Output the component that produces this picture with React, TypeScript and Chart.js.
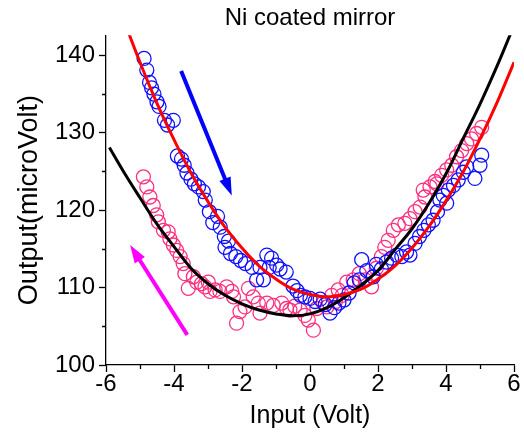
import React, { useEffect, useRef } from 'react';
import { Chart, registerables } from 'chart.js';

Chart.register(...registerables);

// Blue circles (decreasing sweep)
const blueX = [
  -4.88, -4.80, -4.72, -4.66, -4.59, -4.50, -4.44, -4.28, -4.19, -4.02,
  -3.90, -3.78, -3.70, -3.62, -3.50, -3.40, -3.28, -3.14, -3.08, -2.96,
  -2.86, -2.72, -2.64, -2.52, -2.40, -2.50, -2.34, -2.18, -2.04, -1.90,
  -1.70, -1.57, -1.47, -1.37, -1.27, -1.13, -1.20, -0.98, -0.88, -0.70,
  -0.50, -0.38, -0.28, -0.15, 0.00, 0.15, 0.30, 0.45, 0.59, 0.72,
  0.85, 1.00, 1.15, 1.30, 1.45, 1.52, 1.67, 1.86, 1.95, 2.10,
  2.25, 2.40, 2.55, 2.70, 2.84, 2.94, 3.09, 3.22, 3.35, 3.48,
  3.62, 3.75, 3.82, 3.92, 4.02, 4.07, 4.22, 4.36, 4.51, 4.61,
  4.85, 5.00, 5.05,
];
const blueY = [
  139.6, 138.1, 136.5, 135.8, 135.0, 134.0, 133.4, 131.6, 131.0, 131.6,
  127.0, 126.6, 125.8, 124.8, 124.0, 123.4, 123.0, 122.4, 121.3, 119.8,
  118.4, 119.2, 117.8, 116.6, 116.0, 115.2, 114.4, 114.0, 113.5, 113.1,
  112.6, 111.0, 112.6, 111.0, 114.2, 113.8, 112.6, 112.9, 112.4, 112.0,
  110.2, 109.6, 109.0, 108.8, 108.6, 108.2, 108.5, 107.8, 106.7, 107.4,
  108.0, 108.4, 109.3, 110.6, 111.0, 113.6, 112.2, 111.4, 113.0, 112.4,
  113.3, 113.8, 114.2, 114.0, 114.6, 114.2, 115.7, 116.6, 117.4, 118.1,
  118.7, 119.8, 121.3, 121.9, 120.9, 122.6, 123.2, 123.9, 124.9, 125.6,
  124.1, 125.8, 127.1,
];

// Pink circles (increasing sweep)
const pinkX = [
  -4.90, -4.80, -4.71, -4.61, -4.51, -4.46, -4.31, -4.17, -4.12, -4.02,
  -3.92, -3.82, -3.73, -3.68, -3.58, -3.43, -3.33, -3.19, -3.09, -2.99,
  -2.94, -2.79, -2.65, -2.45, -2.30, -2.25, -2.16, -2.06, -1.91, -1.81,
  -1.67, -1.52, -1.47, -1.27, -1.08, -0.83, -0.69, -0.59, -0.45, -0.29,
  -0.15, -0.05, 0.10, 0.20, 0.39, 0.50, 0.64, 0.75, 0.83, 0.95,
  1.08, 1.27, 1.45, 1.62, 1.81, 1.95, 2.10, 2.20, 2.30, 2.45,
  2.60, 2.79, 2.94, 3.09, 3.24, 3.33, 3.38, 3.53, 3.68, 3.73,
  3.87, 4.02, 4.17, 4.31, 4.46, 4.61, 4.75, 4.90, 5.05,
];
const pinkY = [
  124.3, 123.0, 121.7, 120.6, 119.4, 118.5, 117.4, 117.2, 116.3, 115.5,
  114.8, 114.0, 113.1, 111.8, 109.9, 111.4, 110.7, 110.5, 110.1, 110.7,
  109.5, 109.7, 109.5, 110.1, 109.5, 108.8, 105.4, 106.9, 107.5, 109.9,
  108.8, 108.0, 106.7, 108.0, 107.7, 108.0, 107.3, 107.1, 107.6, 107.1,
  106.4, 105.8, 104.5, 107.3, 108.0, 107.5, 109.0, 108.2, 109.7, 109.0,
  110.7, 111.0, 111.8, 111.0, 110.1, 112.5, 114.0, 115.2, 116.1, 117.4,
  118.1, 118.3, 118.9, 119.8, 120.4, 122.6, 121.7, 123.0, 123.7, 123.4,
  124.5, 125.2, 125.8, 126.9, 127.7, 128.6, 129.2, 129.9, 130.7,
];

// Red fit curve (to blue)
const redFitX = [-5.5, -5.0, -4.5, -4.0, -3.5, -3.0, -2.5, -2.0, -1.5, -1.0, -0.5, 0.0,
  0.5, 1.0, 1.5, 2.0, 2.5, 3.0, 3.5, 4.0, 4.5, 5.0, 5.5, 6.0];
const redFitY = [144.8, 139.1, 133.8, 129.1, 124.8, 121.1, 117.8, 115.1, 112.8, 111.1, 109.8, 109.1,
  108.8, 109.1, 109.8, 111.1, 112.8, 115.1, 117.9, 121.2, 124.9, 129.2, 133.9, 139.1];

// Black fit curve (to pink)
const blackFitX = [-5.9, -5.5, -5.0, -4.5, -4.0, -3.5, -3.0, -2.5, -2.0, -1.5, -1.0, -0.5, 0.0,
  0.5, 1.0, 1.5, 2.0, 2.5, 3.0, 3.5, 4.0, 4.5, 5.0, 5.5, 5.9];
const blackFitY = [128.1, 125.1, 121.6, 118.2, 115.3, 112.5, 110.5, 109.0, 107.9, 107.1, 106.6, 106.35, 106.6,
  107.4, 108.7, 110.3, 112.2, 114.9, 117.6, 120.9, 124.7, 129.2, 133.7, 138.6, 142.8];

// Arrows [tail, tip]
const blueArrowX = [-3.79, -2.30];
const blueArrowY = [137.97, 121.9];
const magentaArrowX = [-3.61, -5.29];
const magentaArrowY = [103.9, 115.5];

const xMajorTicks = [-6, -4, -2, 0, 2, 4, 6];
const xMinorTicks = [-5, -3, -1, 1, 3, 5];
const yMajorTicks = [100, 110, 120, 130, 140];
const yMinorTicks = [105, 115, 125, 135];

const FONT = "'Liberation Sans', Arial, sans-serif";

const pts = (xs: number[], ys: number[]) => xs.map((x, i) => ({ x, y: ys[i] }));

const decorPlugin = {
  id: 'decor',
  afterDatasetsDraw(chart: any) {
    const ctx = chart.ctx;
    const xs = chart.scales.x;
    const ys = chart.scales.y;
    const drawArrow = (ax: number[], ay: number[], color: string) => {
      const x0 = xs.getPixelForValue(ax[0]);
      const y0 = ys.getPixelForValue(ay[0]);
      const x1 = xs.getPixelForValue(ax[1]);
      const y1 = ys.getPixelForValue(ay[1]);
      const ang = Math.atan2(y1 - y0, x1 - x0);
      const headLen = 18;
      const headHalf = 6;
      const bx = x1 - headLen * Math.cos(ang);
      const by = y1 - headLen * Math.sin(ang);
      ctx.save();
      ctx.strokeStyle = color;
      ctx.fillStyle = color;
      ctx.lineWidth = 4;
      ctx.lineCap = 'butt';
      ctx.beginPath();
      ctx.moveTo(x0, y0);
      ctx.lineTo(bx + 2 * Math.cos(ang), by + 2 * Math.sin(ang));
      ctx.stroke();
      ctx.beginPath();
      ctx.moveTo(x1, y1);
      ctx.lineTo(bx - headHalf * Math.sin(ang), by + headHalf * Math.cos(ang));
      ctx.lineTo(bx + headHalf * Math.sin(ang), by - headHalf * Math.cos(ang));
      ctx.closePath();
      ctx.fill();
      ctx.restore();
    };
    drawArrow(blueArrowX, blueArrowY, '#0000ff');
    drawArrow(magentaArrowX, magentaArrowY, '#ff00ff');
  },
  afterDraw(chart: any) {
    const ctx = chart.ctx;
    const xs = chart.scales.x;
    const ys = chart.scales.y;
    const area = chart.chartArea;
    ctx.save();
    ctx.strokeStyle = '#000';
    ctx.lineWidth = 1.3;
    ctx.beginPath();
    xMinorTicks.forEach((v) => {
      const px = Math.round(xs.getPixelForValue(v)) + 0.5;
      ctx.moveTo(px, area.bottom);
      ctx.lineTo(px, area.bottom + 4);
    });
    yMinorTicks.forEach((v) => {
      const py = Math.round(ys.getPixelForValue(v)) + 0.5;
      ctx.moveTo(area.left, py);
      ctx.lineTo(area.left - 4, py);
    });
    ctx.stroke();
    ctx.restore();
  },
};

export default function App() {
  const canvasRef = useRef<HTMLCanvasElement | null>(null);

  useEffect(() => {
    document.body.style.margin = '0';
    const canvas = canvasRef.current;
    if (!canvas) return;
    const chart = new Chart(canvas, {
      type: 'scatter',
      data: {
        datasets: [
          {
            label: 'fit red',
            data: pts(redFitX, redFitY),
            showLine: true,
            borderColor: '#ff0000',
            borderWidth: 3,
            pointRadius: 0,
            tension: 0.4,
            order: 1,
          },
          {
            label: 'fit black',
            data: pts(blackFitX, blackFitY),
            showLine: true,
            borderColor: '#000000',
            borderWidth: 3,
            pointRadius: 0,
            tension: 0.4,
            order: 2,
          },
          {
            label: 'blue',
            data: pts(blueX, blueY),
            showLine: false,
            borderColor: '#1010ff',
            backgroundColor: 'rgba(0,0,0,0)',
            borderWidth: 1.3,
            pointRadius: 7,
            order: 3,
          },
          {
            label: 'pink',
            data: pts(pinkX, pinkY),
            showLine: false,
            borderColor: '#ff2f7f',
            backgroundColor: 'rgba(0,0,0,0)',
            borderWidth: 1.3,
            pointRadius: 7,
            order: 4,
          },
        ],
      },
      options: {
        animation: false,
        responsive: true,
        maintainAspectRatio: false,
        layout: { padding: { left: 0, right: 10, top: 0, bottom: 0 } },
        plugins: {
          legend: { display: false },
          tooltip: { enabled: false },
          title: {
            display: true,
            text: 'Ni coated mirror',
            color: '#000',
            fullSize: false,
            font: { family: FONT, size: 24, weight: 'normal', lineHeight: 1.05 },
            padding: { top: 6, bottom: 4 },
          },
        },
        scales: {
          x: {
            type: 'linear',
            min: -6,
            max: 6,
            afterBuildTicks: (s: any) => {
              s.ticks = xMajorTicks.map((v) => ({ value: v }));
            },
            afterFit: (s: any) => {
              s.height = 68;
            },
            ticks: {
              color: '#000',
              font: { family: FONT, size: 24, lineHeight: 1 },
              padding: 0,
              maxRotation: 0,
              autoSkip: false,
            },
            grid: {
              drawOnChartArea: false,
              drawTicks: true,
              tickLength: 7,
              tickColor: '#000',
              tickWidth: 1.3,
            },
            border: { display: true, color: '#000', width: 1.3 },
            title: {
              display: true,
              text: 'Input (Volt)',
              color: '#000',
              font: { family: FONT, size: 25, lineHeight: 1.2 },
              padding: { top: 0, bottom: 2 },
            },
          },
          y: {
            type: 'linear',
            min: 100,
            max: 142.6,
            afterBuildTicks: (s: any) => {
              s.ticks = yMajorTicks.map((v) => ({ value: v }));
            },
            afterFit: (s: any) => {
              s.width = 106;
            },
            ticks: {
              color: '#000',
              font: { family: FONT, size: 24, lineHeight: 1 },
              padding: 4,
              autoSkip: false,
            },
            grid: {
              drawOnChartArea: false,
              drawTicks: true,
              tickLength: 7,
              tickColor: '#000',
              tickWidth: 1.3,
            },
            border: { display: true, color: '#000', width: 1.3 },
            title: {
              display: true,
              text: 'Output(microVolt)',
              color: '#000',
              font: { family: FONT, size: 27, lineHeight: 1.2 },
              padding: { top: 13, bottom: 0 },
            },
          },
        },
      },
      plugins: [decorPlugin],
    });
    return () => chart.destroy();
  }, []);

  return (
    <div style={{ width: 524, height: 433, position: 'relative' }}>
      <canvas ref={canvasRef} />
    </div>
  );
}
